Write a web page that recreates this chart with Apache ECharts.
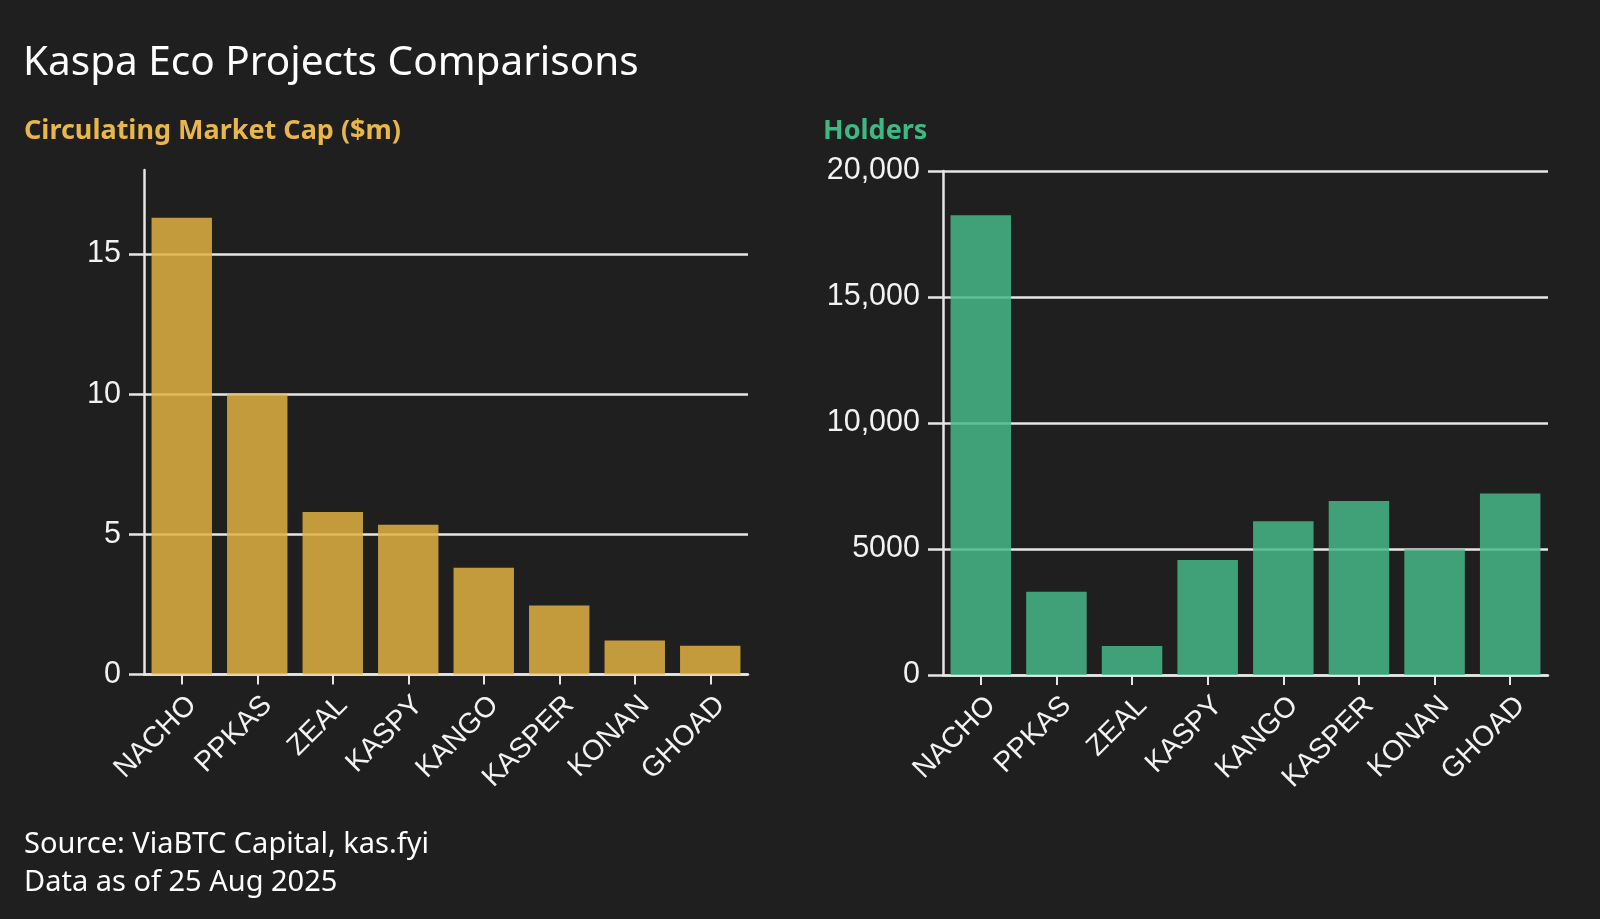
<!DOCTYPE html>
<html>
<head>
<meta charset="utf-8">
<script src="https://cdn.jsdelivr.net/npm/echarts@6/dist/echarts.min.js"></script>
<style>
html,body{margin:0;padding:0;background:#1f1f1f;}
#c{width:1600px;height:919px;}
</style>
</head>
<body>
<div id="c"></div>
<script>
const categories = ['NACHO','PPKAS','ZEAL','KASPY','KANGO','KASPER','KONAN','GHOAD'];
const marketCap = [16.3, 10.0, 5.8, 5.34, 3.81, 2.46, 1.21, 1.03];
const holders = [18240, 3300, 1150, 4560, 6100, 6900, 4990, 7200];
const leftTicks = [0, 5, 10, 15];
const rightTicks = [0, 5000, 10000, 15000, 20000];
const rightTickLabels = ['0', '5000', '10,000', '15,000', '20,000'];

const titleText = 'Kaspa Eco Projects Comparisons';
const leftSubtitle = 'Circulating Market Cap ($m)';
const rightSubtitle = 'Holders';
const sourceText = 'Source: ViaBTC Capital, kas.fyi\nData as of 25 Aug 2025';

const chart = echarts.init(document.getElementById('c'), null, {renderer: 'canvas'});
const white = '#f2f2f2';
const lineCol = '#e6e6e6';
const xLabel = {color: white, fontFamily: 'Liberation Sans', fontSize: 28.5, rotate: 45, margin: 16, interval: 0, verticalAlign: 'top'};
const yLabelBase = {color: white, fontFamily: 'Liberation Sans', fontSize: 30.5, margin: 23};

function xAxis(gi) {
  return {
    type: 'category', gridIndex: gi, data: categories,
    axisLine: {show: true, lineStyle: {color: lineCol, width: 2.5}},
    axisTick: {show: true, alignWithLabel: true, length: 10, lineStyle: {color: lineCol, width: 2}},
    axisLabel: xLabel
  };
}

const option = {
  backgroundColor: '#1f1f1f',
  animation: false,
  title: [
    {text: titleText, left: 18, top: 38, textStyle: {color: '#ffffff', fontFamily: 'Noto Sans', fontWeight: 'normal', fontSize: 40.5}},
    {text: leftSubtitle, left: 19, top: 113, textStyle: {color: '#e8b649', fontFamily: 'Noto Sans', fontWeight: 'bold', fontSize: 27}},
    {text: rightSubtitle, left: 818, top: 113, textStyle: {color: '#3dba84', fontFamily: 'Noto Sans', fontWeight: 'bold', fontSize: 27}},
    {text: sourceText, left: 19, top: 821, textStyle: {color: '#ffffff', fontFamily: 'Noto Sans', fontWeight: 'normal', fontSize: 29, lineHeight: 38}}
  ],
  grid: [
    {left: 144, top: 170, width: 604, height: 504.5},
    {left: 943, top: 171, width: 605, height: 504}
  ],
  xAxis: [xAxis(0), xAxis(1)],
  yAxis: [
    {
      type: 'value', gridIndex: 0, min: 0, max: 18, interval: 5,
      axisLine: {show: true, lineStyle: {color: lineCol, width: 2.5}},
      axisTick: {show: true, length: 15, customValues: leftTicks, lineStyle: {color: lineCol, width: 2.5}},
      axisLabel: Object.assign({}, yLabelBase, {customValues: leftTicks}),
      splitLine: {show: true, lineStyle: {color: lineCol, width: 2.5}}
    },
    {
      type: 'value', gridIndex: 1, min: 0, max: 20000, interval: 5000,
      axisLine: {show: true, lineStyle: {color: lineCol, width: 2.5}},
      axisTick: {show: true, length: 15, lineStyle: {color: lineCol, width: 2.5}},
      axisLabel: Object.assign({}, yLabelBase, {formatter: function (v) { const i = rightTicks.indexOf(v); return i >= 0 ? rightTickLabels[i] : ''; }}),
      splitLine: {show: true, lineStyle: {color: lineCol, width: 2.5}}
    }
  ],
  series: [
    {type: 'bar', xAxisIndex: 0, yAxisIndex: 0, data: marketCap, barCategoryGap: '20%',
     itemStyle: {color: 'rgb(225,178,66)', opacity: 0.85}},
    {type: 'bar', xAxisIndex: 1, yAxisIndex: 1, data: holders, barCategoryGap: '20%',
     itemStyle: {color: 'rgb(70,184,137)', opacity: 0.85}}
  ]
};
chart.setOption(option);
</script>
</body>
</html>
